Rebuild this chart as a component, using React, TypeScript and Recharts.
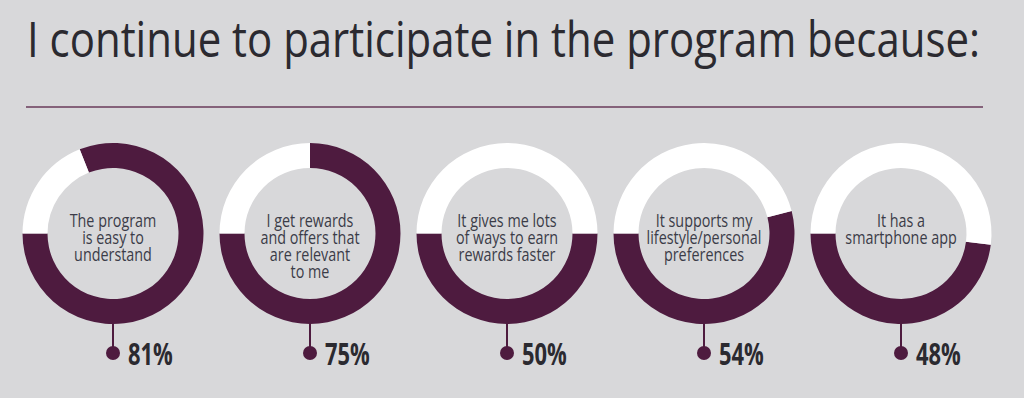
import { PieChart, Pie, Cell } from "recharts";

const title = "I continue to participate in the program because:";

const reasons: string[][] = [
  ["The program", "is easy to", "understand"],
  ["I get rewards", "and offers that", "are relevant", "to me"],
  ["It gives me lots", "of ways to earn", "rewards faster"],
  ["It supports my", "lifestyle/personal", "preferences"],
  ["It has a", "smartphone app"],
];

const shares = [81, 75, 50, 54, 48];

const BG = "#d8d8da";
const PLUM = "#4e1b3f";
const INK = "#2b2a30";
const FONT = "'Open Sans', sans-serif";

// squeeze a text horizontally around x, to mimic the condensed face
const narrow = (x: number, k: number) => `translate(${x} 0) scale(${k} 1) translate(${-x} 0)`;

function renderLabel(props: any, i: number) {
  const { cx, cy, outerRadius, index } = props;
  if (index !== 0) return null;
  const stemEnd = cy + outerRadius + 29;
  return (
    <g>
      <text
        x={cx}
        y={cy - 6.5}
        textAnchor="middle"
        fill="#3b3c48"
        fontFamily={FONT}
        fontSize={17.5}
        transform={narrow(cx, 0.82)}
      >
        {reasons[i].map((line, k) => (
          <tspan key={k} x={cx} dy={k === 0 ? 0 : 17}>
            {line}
          </tspan>
        ))}
      </text>
      <line x1={cx} y1={cy + outerRadius} x2={cx} y2={stemEnd} stroke={PLUM} strokeWidth={2} />
      <circle cx={cx} cy={stemEnd} r={7} fill={PLUM} />
      <text
        x={cx + 15}
        y={stemEnd + 12}
        fill={INK}
        fontFamily={FONT}
        fontWeight={700}
        fontSize={30}
        transform={narrow(cx + 15, 0.73)}
      >
        {shares[i]}%
      </text>
    </g>
  );
}

export default function App() {
  return (
    <div
      style={{
        position: "fixed",
        left: 0,
        top: 0,
        width: 1024,
        height: 398,
        background: BG,
      }}
    >
      <svg width={1024} height={398} style={{ position: "absolute", left: 0, top: 0 }}>
        <text
          x={27}
          y={57}
          fill={INK}
          fontFamily={FONT}
          fontWeight={400}
          fontSize={50}
          textLength={953}
          lengthAdjust="spacingAndGlyphs"
        >
          {title}
        </text>
        <line x1={26} y1={107} x2={983} y2={107} stroke="#85627a" strokeWidth={2} />
      </svg>
      <div style={{ position: "absolute", left: 0, top: 0 }}>
        <PieChart width={1024} height={398}>
          {shares.map((s, i) => (
            <Pie
              key={i}
              data={[
                { name: "yes", value: s },
                { name: "rest", value: 100 - s },
              ]}
              dataKey="value"
              cx={108 + i * 197}
              cy={228.5}
              innerRadius={65.5}
              outerRadius={90.5}
              startAngle={180}
              endAngle={540}
              stroke="none"
              label={(p: any) => renderLabel(p, i)}
              labelLine={false}
              isAnimationActive={false}
            >
              <Cell fill={PLUM} />
              <Cell fill="#ffffff" />
            </Pie>
          ))}
        </PieChart>
      </div>
    </div>
  );
}
